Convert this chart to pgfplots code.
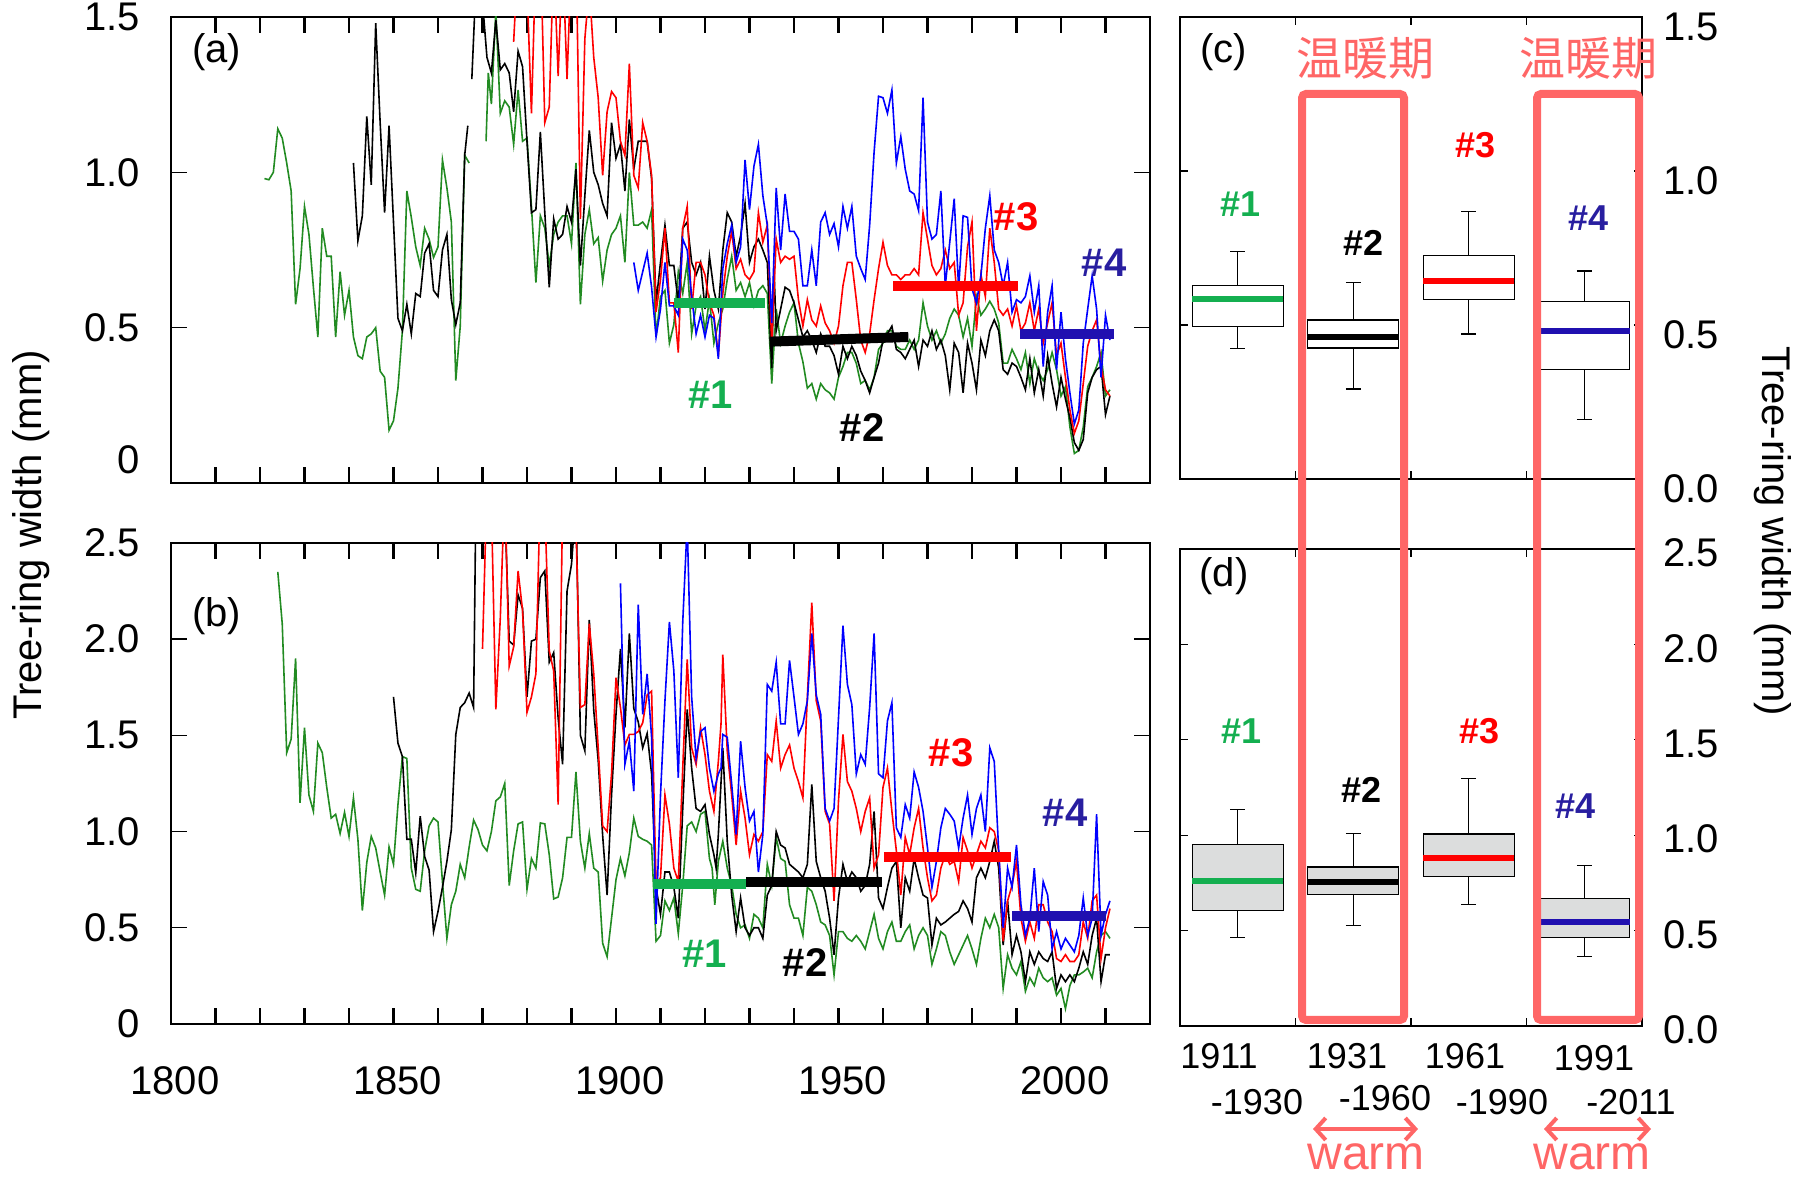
\documentclass[border=0pt]{standalone}
\usepackage{pgfplots}
\pgfplotsset{compat=1.18}
\usepgfplotslibrary{statistics}
\usetikzlibrary{arrows.meta}
\usepackage{fontspec}
\setmainfont{Liberation Sans}
\newfontfamily\cjk{Noto Sans CJK JP}
\definecolor{cgreen}{RGB}{20,175,80}
\definecolor{dgreen}{RGB}{34,139,34}
\definecolor{cred}{RGB}{255,0,0}
\definecolor{cblue}{RGB}{0,0,255}
\definecolor{bblue}{RGB}{32,16,176}
\definecolor{lblue}{RGB}{40,30,160}
\definecolor{salmon}{RGB}{255,102,102}
\definecolor{boxgray}{RGB}{220,221,221}
\newcommand{\fa}{\fontsize{20}{24}\selectfont}
\newcommand{\fb}{\fontsize{18}{22}\selectfont}

\pgfplotstableread{
x y
1821 0.98
1822 0.976
1823 1.00
1824 1.14
1825 1.11
1826 1.03
1827 0.94
1828 0.575
1829 0.69
1830 0.89
1831 0.80
1832 0.63
1833 0.47
1834 0.82
1835 0.73
1836 0.73
1837 0.47
1838 0.68
1839 0.54
1840 0.62
1841 0.47
1842 0.41
1843 0.40
1844 0.47
1845 0.48
1846 0.50
1847 0.36
1848 0.34
1849 0.17
1850 0.20
1851 0.305
1852 0.49
1853 0.94
1854 0.855
1855 0.76
1856 0.70
1857 0.82
1858 0.785
1859 0.726
1860 0.76
1861 1.04
1862 0.95
1863 0.84
1864 0.33
1865 0.505
1866 1.055
1867 1.03
1868 nan
1870.8 1.10
1871.3 1.32
1872 1.22
1873 1.52
1874 1.19
1875 1.23
1876 1.21
1877 1.09
1878 1.265
1879 1.10
1880 1.11
1881 0.89
1882 0.645
1883 0.86
1884 0.82
1885 0.70
1886 0.80
1887 0.84
1888 0.86
1889 0.86
1890 0.77
1891 1.03
1892 0.575
1893 0.80
1894 0.88
1895 0.77
1896 0.79
1897 0.65
1898 0.75
1899 0.80
1900 0.82
1901 0.86
1902 0.71
1903 1.00
1904 0.83
1905 0.83
1906 0.84
1907 0.82
1908 0.88
1909 0.47
1910 0.60
1911 0.62
1912 0.45
1913 0.51
1914 0.68
1915 0.61
1916 0.71
1917 0.48
1918 0.57
1919 0.60
1920 0.49
1921 0.59
1922 0.45
1923 0.515
1924 0.56
1925 0.655
1926 0.73
1927 0.62
1928 0.645
1929 0.60
1930 0.645
1931 0.57
1932 0.62
1933 0.635
1934 0.61
1935 0.32
1936 0.56
1937 0.45
1938 0.505
1939 0.55
1940 0.58
1941 0.45
1942 0.39
1943 0.305
1944 0.32
1945 0.27
1946 0.32
1947 0.30
1948 0.29
1949 0.27
1950 0.34
1951 0.375
1952 0.42
1953 0.42
1954 0.385
1955 0.32
1956 0.33
1957 0.30
1958 0.34
1959 0.43
1960 0.45
1961 0.49
1962 0.49
1963 0.44
1964 0.43
1965 0.43
1966 0.46
1967 0.43
1968 0.46
1969 0.58
1970 0.505
1971 0.46
1972 0.49
1973 0.45
1974 0.48
1975 0.53
1976 0.56
1977 0.54
1978 0.47
1979 0.53
1980 0.44
1981 0.60
1982 0.54
1983 0.56
1984 0.585
1985 0.56
1986 0.515
1987 0.386
1988 0.386
1989 0.43
1990 0.40
1991 0.365
1992 0.42
1993 0.32
1994 0.40
1995 0.355
1996 0.33
1997 0.365
1998 0.42
1999 0.365
2000 0.28
2001 0.31
2002 0.18
2003 0.095
2004 0.105
2005 0.18
2006 0.31
2007 0.34
2008 0.375
2009 0.42
2010 0.28
2011 0.30
}\aGreen

\pgfplotstableread{
x y
1841 1.03
1842 0.78
1843 0.86
1844 1.18
1845 0.96
1846 1.48
1847 1.16
1848 0.87
1849 1.15
1850 0.84
1851 0.53
1852 0.49
1853 0.575
1854 0.48
1855 0.61
1856 0.60
1857 0.74
1858 0.77
1859 0.62
1860 0.60
1861 0.75
1862 0.80
1863 0.59
1864 0.51
1865 0.58
1866 1.055
1866.7 1.15
1867.1 nan
1867.6 1.30
1868.5 1.60
1869 1.70
1870 1.55
1871 1.37
1872 1.32
1873 1.49
1874 1.33
1875 1.35
1876 1.32
1877 1.195
1878 1.39
1879 1.34
1880 1.10
1881 0.87
1882 0.88
1883 1.13
1884 0.87
1885 0.63
1886 0.85
1887 0.785
1888 0.80
1889 0.89
1890 0.84
1891 1.01
1892 0.70
1893 0.925
1894 1.135
1895 1.00
1896 0.96
1897 0.90
1898 0.86
1899 1.16
1900 1.045
1901 1.09
1902 0.94
1903 1.17
1904 1.01
1905 1.10
1906 1.10
1907 1.10
1908 0.98
1909 0.58
1910 0.71
1911 0.83
1912 0.70
1913 0.70
1914 0.58
1915 0.82
1916 0.84
1917 0.71
1918 0.67
1919 0.71
1920 0.56
1921 0.73
1922 0.62
1923 0.56
1924 0.75
1925 0.87
1926 0.84
1927 0.73
1928 0.795
1929 0.90
1930 0.71
1931 0.76
1932 0.785
1933 0.75
1934 0.71
1935 0.37
1935.5 0.69
1936 0.49
1937 0.56
1938 0.63
1939 0.62
1940 0.58
1941 0.525
1942 0.47
1943 0.49
1944 0.46
1945 0.42
1946 0.48
1947 0.44
1948 0.44
1949 0.41
1950 0.35
1951 0.44
1952 0.40
1953 0.44
1954 0.41
1955 0.36
1956 0.33
1957 0.29
1958 0.34
1959 0.386
1960 0.46
1961 0.48
1962 0.505
1963 0.43
1964 0.42
1965 0.40
1966 0.43
1967 0.46
1968 0.375
1969 0.46
1970 0.44
1971 0.49
1972 0.43
1973 0.46
1974 0.41
1975 0.30
1976 0.45
1977 0.42
1978 0.29
1979 0.45
1980 0.386
1981 0.30
1982 0.46
1983 0.41
1984 0.49
1985 0.525
1986 0.49
1987 0.365
1988 0.35
1989 0.386
1990 0.375
1991 0.34
1992 0.30
1993 0.40
1994 0.29
1995 0.365
1996 0.28
1997 0.41
1998 0.32
1999 0.245
2000 0.34
2001 0.27
2002 0.21
2003 0.13
2004 0.105
2005 0.14
2006 0.29
2007 0.34
2008 0.365
2009 0.375
2010 0.22
2011 0.28
}\aBlack

\pgfplotstableread{
x y
1877 1.42
1878 1.70
1879 1.80
1880 1.60
1881 1.19
1882 1.70
1883 1.75
1884 1.16
1885 1.21
1886 1.70
1887 1.31
1888 1.70
1889 1.30
1890 1.70
1891 1.75
1892 0.85
1893 1.43
1894 1.60
1895 1.37
1896 1.24
1897 0.99
1898 1.195
1899 1.26
1900 1.24
1901 1.10
1902 1.055
1903 1.35
1904 0.99
1905 0.95
1906 1.16
1907 1.10
1908 0.99
1909 0.55
1910 0.655
1911 0.82
1912 0.58
1913 0.58
1914 0.42
1915 0.82
1916 0.89
1917 0.56
1918 0.71
1919 0.71
1920 0.67
1921 0.58
1922 0.54
1923 0.41
1924 0.61
1925 0.73
1926 0.81
1927 0.69
1928 0.72
1929 0.67
1930 0.655
1931 0.68
1932 0.87
1933 0.775
1934 0.83
1935 0.45
1936 0.785
1937 0.71
1938 0.73
1939 0.72
1940 0.73
1941 0.59
1942 0.505
1943 0.59
1944 0.525
1945 0.505
1946 0.57
1947 0.515
1948 0.49
1949 0.45
1950 0.505
1951 0.635
1952 0.71
1953 0.71
1954 0.59
1955 0.46
1956 0.42
1957 0.48
1958 0.59
1959 0.69
1960 0.775
1961 0.70
1962 0.67
1963 0.67
1964 0.655
1965 0.67
1966 0.67
1967 0.69
1968 0.67
1969 0.87
1970 0.785
1971 0.70
1972 0.67
1973 0.69
1974 0.75
1975 0.69
1976 0.71
1977 0.54
1978 0.58
1979 0.76
1980 0.84
1981 0.49
1982 0.67
1983 0.60
1984 0.82
1985 0.71
1986 0.56
1987 0.54
1988 0.56
1989 0.505
1990 0.57
1991 0.49
1992 0.515
1993 0.58
1994 0.49
1995 0.56
1996 0.45
1997 0.515
1998 0.58
1999 0.41
2000 0.45
2001 0.34
2002 0.235
2003 0.16
2004 0.20
2005 0.32
2006 0.44
2007 0.49
2008 0.525
2009 0.375
2010 0.30
2011 0.28
}\aRed

\pgfplotstableread{
x y
1904 0.71
1905 0.62
1906 0.68
1907 0.74
1908 0.63
1909 0.47
1910 0.56
1911 0.71
1912 0.57
1913 0.57
1914 0.54
1915 0.785
1916 0.75
1917 0.60
1918 0.48
1919 0.54
1920 0.47
1921 0.54
1922 0.53
1923 0.40
1924 0.69
1925 0.77
1926 0.83
1927 0.71
1928 0.76
1929 1.04
1930 0.88
1931 1.02
1932 1.09
1933 0.925
1934 0.83
1935 0.515
1936 0.95
1937 0.75
1938 0.93
1939 0.81
1940 0.81
1941 0.785
1942 0.635
1943 0.635
1944 0.75
1945 0.635
1946 0.84
1947 0.87
1948 0.80
1949 0.835
1950 0.76
1951 0.89
1952 0.82
1953 0.89
1954 0.73
1955 0.69
1956 0.655
1957 0.83
1958 1.065
1959 1.245
1960 1.24
1961 1.19
1962 1.265
1963 1.03
1964 1.115
1965 1.01
1966 0.94
1967 0.93
1968 0.877
1969 1.24
1970 0.84
1971 0.785
1972 0.80
1973 0.94
1974 0.635
1975 0.775
1976 0.915
1977 0.625
1978 0.86
1979 0.855
1980 0.625
1981 0.58
1982 0.667
1983 0.82
1984 0.925
1985 0.75
1986 0.71
1987 0.635
1988 0.71
1989 0.55
1990 0.59
1991 0.58
1992 0.60
1993 0.667
1994 0.55
1995 0.635
1996 0.375
1997 0.55
1998 0.635
1999 0.365
2000 0.55
2001 0.40
2002 0.29
2003 0.19
2004 0.235
2005 0.45
2006 0.56
2007 0.667
2008 0.56
2009 0.34
2010 0.54
2011 0.46
}\aBlue

\pgfplotstableread{
x y
1824 2.35
1825 2.08
1826 1.41
1827 1.48
1828 1.90
1829 1.15
1830 1.54
1831 1.19
1832 1.105
1833 1.46
1834 1.41
1835 1.23
1836 1.07
1837 1.09
1838 0.99
1839 1.10
1840 0.975
1841 1.175
1842 0.96
1843 0.59
1844 0.84
1845 0.975
1846 0.915
1847 0.79
1848 0.67
1849 0.92
1850 0.83
1851 1.14
1852 1.39
1853 1.38
1854 0.81
1855 0.70
1856 0.69
1857 0.90
1858 1.03
1859 1.07
1860 1.05
1861 0.74
1862 0.445
1863 0.62
1864 0.69
1865 0.83
1866 0.76
1867 0.92
1868 1.06
1869 1.01
1870 0.93
1871 0.90
1872 1.00
1873 1.16
1874 1.18
1875 1.25
1876 0.72
1877 0.90
1878 1.04
1879 1.05
1880 0.70
1881 0.86
1882 0.81
1883 1.045
1884 1.04
1885 0.88
1886 0.65
1887 0.66
1888 0.76
1889 0.97
1890 0.97
1891 1.31
1892 0.95
1893 0.81
1894 0.99
1895 0.81
1896 0.79
1897 0.42
1898 0.35
1899 0.55
1900 0.75
1901 0.86
1902 0.77
1903 0.89
1904 1.07
1905 0.975
1906 0.96
1907 0.95
1908 0.93
1909 0.43
1910 0.46
1911 0.64
1912 0.59
1913 0.655
1914 0.47
1915 0.72
1916 1.03
1917 1.05
1918 1.00
1919 1.09
1920 1.105
1921 0.86
1921.6 0.81
1922.2 0.62
1923 0.845
1924 0.95
1925 0.81
1926 0.72
1927 0.57
1928 0.50
1929 0.515
1930 0.445
1931 0.57
1932 0.55
1933 0.50
1934 0.83
1935 0.72
1936 0.97
1937 0.86
1938 0.845
1939 0.62
1940 0.55
1941 0.55
1942 0.46
1943 0.71
1944 0.69
1945 0.62
1946 0.53
1947 0.515
1948 0.46
1949 0.255
1950 0.48
1951 0.48
1952 0.445
1953 0.43
1954 0.46
1955 0.43
1956 0.39
1957 0.48
1958 0.57
1959 0.445
1960 0.39
1961 0.48
1962 0.53
1963 0.43
1964 0.43
1965 0.48
1966 0.515
1967 0.39
1968 0.46
1969 0.50
1970 0.46
1971 0.31
1972 0.39
1973 0.48
1974 0.46
1975 0.375
1976 0.31
1977 0.36
1978 0.41
1979 0.46
1980 0.39
1981 0.31
1982 0.445
1983 0.55
1984 0.50
1985 0.57
1986 0.50
1987 0.185
1988 0.36
1989 0.29
1990 0.255
1991 0.325
1992 0.17
1993 0.24
1994 0.20
1995 0.29
1996 0.24
1997 0.22
1998 0.24
1999 0.15
2000 0.185
2001 0.08
2002 0.20
2003 0.255
2004 0.255
2005 0.27
2006 0.29
2007 0.24
2008 0.375
2009 0.46
2010 0.48
2011 0.445
}\bGreen

\pgfplotstableread{
x y
1850 1.70
1851 1.46
1852 1.39
1853 0.96
1854 0.96
1855 0.785
1856 1.08
1857 0.87
1858 0.80
1859 0.48
1860 0.585
1861 0.71
1862 0.845
1863 1.01
1864 1.505
1865 1.645
1866 1.67
1867 1.72
1868 1.645
1868.5 2.70
1869 3.00
1870 2.90
1871 2.80
1872 3.00
1873 2.90
1874 2.80
1875 2.70
1876 1.99
1877 1.97
1878 2.23
1879 2.16
1880 1.70
1881 1.99
1882 2.00
1883 2.32
1884 2.355
1885 1.88
1886 1.93
1887 1.59
1888 1.35
1889 2.25
1890 2.39
1891 2.70
1892 1.50
1893 1.42
1894 2.10
1895 1.63
1896 1.37
1897 0.98
1898 0.67
1899 1.19
1900 1.61
1901 1.95
1902 1.54
1903 2.03
1904 1.64
1905 1.57
1906 1.435
1907 1.51
1908 1.30
1909 0.71
1910 0.57
1911 0.79
1912 0.79
1913 0.71
1914 0.55
1915 1.12
1916 1.635
1917 1.33
1918 1.12
1919 1.105
1920 1.14
1921 0.985
1922 0.88
1922.5 0.81
1923 0.985
1924 1.435
1925 0.95
1926 0.67
1927 0.48
1928 0.655
1929 0.50
1930 0.46
1931 0.50
1932 0.50
1933 0.445
1934 0.67
1935 0.72
1936 1.00
1937 0.93
1938 0.915
1939 0.83
1940 0.81
1941 0.79
1942 0.76
1943 0.83
1944 1.245
1945 0.845
1946 0.76
1947 0.69
1948 0.55
1949 0.36
1950 0.655
1951 0.83
1952 0.74
1953 0.79
1954 0.76
1955 0.69
1956 0.72
1957 0.83
1958 1.105
1959 0.655
1960 0.60
1961 0.71
1962 0.81
1963 0.845
1964 0.50
1965 0.76
1966 0.69
1967 0.86
1968 0.76
1969 0.67
1970 0.655
1971 0.41
1972 0.55
1973 0.515
1974 0.53
1975 0.55
1976 0.57
1977 0.585
1978 0.64
1979 0.60
1980 0.53
1981 0.76
1982 0.81
1983 0.76
1984 0.845
1985 0.95
1986 0.81
1987 0.41
1988 0.64
1989 0.36
1990 0.46
1991 0.375
1992 0.22
1993 0.375
1994 0.31
1995 0.375
1996 0.34
1997 0.325
1998 0.375
1999 0.185
2000 0.255
2001 0.22
2002 0.255
2003 0.22
2004 0.29
2005 0.375
2006 0.31
2007 0.46
2008 0.55
2009 0.22
2010 0.36
2011 0.36
}\bBlack

\pgfplotstableread{
x y
1870 1.95
1871 2.80
1872 2.70
1873 1.635
1874 2.11
1875 2.80
1876 1.86
1877 1.96
1878 2.355
1879 2.15
1880 1.62
1881 1.70
1882 1.82
1883 2.80
1884 2.70
1885 1.94
1886 1.835
1887 1.14
1888 2.70
1889 2.80
1890 2.70
1891 2.60
1892 1.645
1893 1.66
1894 2.08
1895 1.82
1896 1.435
1897 1.03
1898 1.00
1899 1.30
1900 1.80
1901 1.645
1902 1.45
1903 1.505
1904 1.505
1905 1.52
1906 1.565
1907 1.71
1908 1.73
1909 0.72
1910 0.76
1911 1.19
1912 1.04
1913 0.81
1914 0.74
1915 1.33
1916 1.895
1917 1.435
1918 1.35
1919 1.54
1920 1.40
1921 1.21
1922 1.105
1923 1.365
1923.6 1.56
1924 1.92
1925 1.42
1926 1.19
1927 0.93
1928 1.21
1929 1.07
1930 0.88
1931 0.985
1932 0.95
1933 1.00
1934 1.40
1935 1.365
1936 1.575
1937 1.33
1938 1.40
1939 1.45
1940 1.33
1941 1.26
1942 1.175
1943 1.70
1944 2.19
1945 1.68
1946 1.575
1947 1.105
1948 1.04
1949 0.64
1950 1.16
1951 1.505
1952 1.26
1953 1.21
1954 1.12
1955 1.00
1956 1.105
1957 1.175
1958 0.81
1959 0.88
1960 1.23
1961 1.33
1962 1.105
1963 0.90
1964 0.67
1965 0.97
1966 0.88
1967 1.02
1968 1.12
1969 0.915
1970 0.76
1971 0.64
1972 0.67
1973 0.81
1974 0.88
1975 0.83
1976 0.845
1977 0.74
1978 0.97
1979 0.90
1980 0.81
1981 0.88
1982 0.95
1983 0.915
1984 1.02
1985 1.00
1986 0.90
1987 0.43
1988 0.64
1989 0.72
1990 0.845
1991 0.55
1992 0.43
1993 0.53
1994 0.445
1995 0.62
1996 0.62
1997 0.53
1998 0.48
1999 0.34
2000 0.325
2001 0.36
2002 0.325
2003 0.325
2004 0.36
2005 0.53
2006 0.445
2007 0.64
2008 0.67
2009 0.34
2010 0.50
2011 0.60
}\bRed

\pgfplotstableread{
x y
1901 2.29
1902 1.35
1903 1.47
1904 1.21
1905 2.18
1906 1.61
1907 1.82
1908 1.49
1909 0.52
1910 1.19
1911 1.68
1912 2.09
1913 1.835
1914 1.28
1915 2.09
1916 2.60
1917 1.70
1918 1.38
1919 1.52
1920 1.54
1921 1.33
1922 1.21
1923 1.30
1923.6 1.33
1924 1.505
1925 1.49
1926 1.245
1927 0.985
1928 1.47
1929 1.23
1930 1.055
1931 1.105
1932 0.79
1933 0.985
1934 1.765
1935 1.73
1936 1.88
1937 1.56
1938 1.56
1939 1.89
1940 1.70
1941 1.505
1942 1.56
1943 1.68
1944 2.03
1945 1.71
1946 1.61
1947 1.12
1948 1.055
1949 1.12
1950 1.59
1951 2.07
1952 1.765
1953 1.66
1954 1.30
1955 1.40
1956 1.35
1957 1.645
1958 2.03
1959 1.30
1960 1.28
1961 1.575
1962 1.67
1963 1.02
1964 0.97
1965 1.14
1966 1.07
1967 1.31
1968 1.23
1969 1.105
1970 0.915
1971 0.71
1972 0.845
1973 1.02
1974 1.12
1975 1.09
1976 1.055
1977 0.915
1978 1.07
1979 1.19
1980 0.985
1981 1.12
1982 1.19
1983 1.00
1984 1.435
1985 1.365
1986 0.90
1987 0.50
1988 0.81
1989 0.71
1990 0.93
1991 0.62
1992 0.46
1993 0.55
1994 0.81
1995 0.48
1996 0.74
1997 0.67
1998 0.39
1999 0.48
2000 0.39
2001 0.445
2002 0.41
2003 0.375
2004 0.46
2005 0.655
2006 0.46
2007 0.55
2008 1.09
2009 0.46
2010 0.57
2011 0.64
}\bBlue

\pgfplotsset{
  tsaxis/.style={
    anchor=south west, scale only axis, width=489.5pt,
    xmin=1800, xmax=2020, ymin=0,
    axis line style={line width=1.3pt},
    tick align=inside, major tick length=8pt,
    xtick style={line width=1.3pt, black},
    ytick style={line width=0.7pt, black},
    tick label style={font=\fa},
    /pgf/number format/assume math mode=true,
    unbounded coords=jump, clip mode=individual,
  },
  thin/.style={line width=0.8pt},
  bar/.style={line width=5pt},
  bxaxis/.style={
    anchor=south west, scale only axis, width=231pt,
    xmin=0, xmax=4, ymin=0,
    axis line style={line width=0.6pt},
    tick align=inside, major tick length=4pt,
    tick style={line width=0.6pt, black},
    xtick={1,2,3}, xticklabels={},
    yticklabel pos=right,
    yticklabel style={font=\fa, xshift=7pt},
    /pgf/number format/assume math mode=true,
    clip mode=individual,
    boxplot/draw direction=y,
    boxplot/every box/.style={draw=black, line width=0.6pt},
    boxplot/every whisker/.style={draw=black, line width=0.6pt},
  },
}

\begin{document}
\begin{tikzpicture}
\path[use as bounding box] (0,0) rectangle (905.5pt,589pt);

% ---------------- (a)
\begin{axis}[tsaxis, at={(85.5pt,347.5pt)}, height=233pt, ymax=1.5,
  xtick={1810,1820,...,2010}, xticklabels={},
  ytick={0.5,1,1.5}, yticklabels={0.5,1.0,1.5},
  extra y ticks={0.075}, extra y tick labels={0},
  extra y tick style={ytick style={draw=none}},
  yticklabel style={xshift=-12pt}]
\addplot[thin, dgreen] table {\aGreen};
\addplot[thin, black] table {\aBlack};
\addplot[thin, cred] table {\aRed};
\addplot[thin, cblue] table {\aBlue};
\addplot[bar, cgreen] coordinates {(1913,0.58) (1933.5,0.58)};
\addplot[bar, black] coordinates {(1934.5,0.455) (1965.7,0.47)};
\addplot[bar, cred] coordinates {(1962.3,0.634) (1990.4,0.634)};
\addplot[bar, bblue] coordinates {(1990.8,0.48) (2012,0.48)};
\node[font=\fa] at (axis cs:1810.3,1.387) {(a)};
\node[font=\fa\bfseries, text=cgreen] at (axis cs:1921.3,0.283) {\#1};
\node[font=\fa\bfseries, text=black] at (axis cs:1955.3,0.18) {\#2};
\node[font=\fa\bfseries, text=cred] at (axis cs:1989.9,0.856) {\#3};
\node[font=\fa\bfseries, text=lblue] at (axis cs:2009.7,0.708) {\#4};
\end{axis}

% ---------------- (b)
\begin{axis}[tsaxis, at={(85.5pt,77pt)}, height=240.5pt, ymax=2.5,
  xtick={1800,1810,...,2020},
  xticklabels={1800,,,,,1850,,,,,1900,,,,,1950,,,,,2000,,},
  xticklabel style={yshift=-18pt, xshift=2pt},
  ytick={0,0.5,1,1.5,2,2.5}, yticklabels={0,0.5,1.0,1.5,2.0,2.5},
  yticklabel style={xshift=-12pt}]
\addplot[thin, dgreen] table {\bGreen};
\addplot[thin, black] table {\bBlack};
\addplot[thin, cred] table {\bRed};
\addplot[thin, cblue] table {\bBlue};
\addplot[bar, cgreen] coordinates {(1908.3,0.73) (1929.3,0.73)};
\addplot[bar, black] coordinates {(1929.3,0.736) (1959.8,0.736)};
\addplot[bar, cred] coordinates {(1960.2,0.87) (1988.8,0.87)};
\addplot[bar, bblue] coordinates {(1989.1,0.56) (2010,0.56)};
\node[font=\fa] at (axis cs:1810.3,2.12) {(b)};
\node[font=\fa\bfseries, text=cgreen] at (axis cs:1920,0.364) {\#1};
\node[font=\fa\bfseries, text=black] at (axis cs:1942.5,0.32) {\#2};
\node[font=\fa\bfseries, text=cred] at (axis cs:1975.3,1.41) {\#3};
\node[font=\fa\bfseries, text=lblue] at (axis cs:2000.9,1.10) {\#4};
\end{axis}

% ---------------- (c)
\begin{axis}[bxaxis, at={(590pt,349.5pt)}, height=231pt, ymax=1.5,
  ytick={0,0.5,1,1.5}, yticklabels={0.0,0.5,1.0,1.5},
  yticklabel style={yshift=-5pt}]
\addplot[fill=white, boxplot prepared={draw position=0.5, median=0.583,
  upper quartile=0.628, lower quartile=0.495, upper whisker=0.738, lower whisker=0.423,
  box extend=0.79, whisker extend=0.13},
  boxplot/every median/.style={draw=cgreen, line width=3pt}] coordinates {};
\addplot[fill=white, boxplot prepared={draw position=1.5, median=0.462,
  upper quartile=0.516, lower quartile=0.425, upper whisker=0.637, lower whisker=0.292,
  box extend=0.79, whisker extend=0.13},
  boxplot/every median/.style={draw=black, line width=3pt}] coordinates {};
\addplot[fill=white, boxplot prepared={draw position=2.5, median=0.643,
  upper quartile=0.725, lower quartile=0.582, upper whisker=0.868, lower whisker=0.471,
  box extend=0.79, whisker extend=0.13},
  boxplot/every median/.style={draw=cred, line width=3pt}] coordinates {};
\addplot[fill=white, boxplot prepared={draw position=3.5, median=0.482,
  upper quartile=0.577, lower quartile=0.355, upper whisker=0.675, lower whisker=0.194,
  box extend=0.79, whisker extend=0.13},
  boxplot/every median/.style={draw=bblue, line width=3pt}] coordinates {};
\node[font=\fa] at (axis cs:0.38,1.386) {(c)};
\node[font=\fb\bfseries, text=cgreen] at (axis cs:0.528,0.894) {\#1};
\node[font=\fb\bfseries, text=black] at (axis cs:1.585,0.767) {\#2};
\node[font=\fb\bfseries, text=cred] at (axis cs:2.556,1.085) {\#3};
\node[font=\fb\bfseries, text=lblue] at (axis cs:3.54,0.846) {\#4};
\end{axis}

% ---------------- (d)
\begin{axis}[bxaxis, at={(590pt,76pt)}, height=238.5pt, ymax=2.5,
  ytick={0,0.5,1,1.5,2,2.5}, yticklabels={0.0,0.5,1.0,1.5,2.0,2.5},
  yticklabel style={yshift=-2pt}]
\addplot[fill=boxgray, boxplot prepared={draw position=0.5, median=0.762,
  upper quartile=0.951, lower quartile=0.604, upper whisker=1.136, lower whisker=0.464,
  box extend=0.79, whisker extend=0.13},
  boxplot/every median/.style={draw=cgreen, line width=3pt}] coordinates {};
\addplot[fill=boxgray, boxplot prepared={draw position=1.5, median=0.756,
  upper quartile=0.833, lower quartile=0.688, upper whisker=1.008, lower whisker=0.527,
  box extend=0.79, whisker extend=0.13},
  boxplot/every median/.style={draw=black, line width=3pt}] coordinates {};
\addplot[fill=boxgray, boxplot prepared={draw position=2.5, median=0.883,
  upper quartile=1.006, lower quartile=0.784, upper whisker=1.298, lower whisker=0.637,
  box extend=0.79, whisker extend=0.13},
  boxplot/every median/.style={draw=cred, line width=3pt}] coordinates {};
\addplot[fill=boxgray, boxplot prepared={draw position=3.5, median=0.545,
  upper quartile=0.670, lower quartile=0.464, upper whisker=0.841, lower whisker=0.365,
  box extend=0.79, whisker extend=0.13},
  boxplot/every median/.style={draw=bblue, line width=3pt}] coordinates {};
\node[font=\fa] at (axis cs:0.38,2.36) {(d)};
\node[font=\fb\bfseries, text=cgreen] at (axis cs:0.535,1.544) {\#1};
\node[font=\fb\bfseries, text=black] at (axis cs:1.57,1.237) {\#2};
\node[font=\fb\bfseries, text=cred] at (axis cs:2.59,1.544) {\#3};
\node[font=\fb\bfseries, text=lblue] at (axis cs:3.42,1.153) {\#4};
\end{axis}

% axis titles
\node[font=\fa, rotate=90] at (15.5pt,321.5pt) {Tree-ring width (mm)};
\node[font=\fa, rotate=-90] at (886.5pt,323.5pt) {Tree-ring width (mm)};

% category labels
\node[font=\fb] at (609.5pt,61pt) {1911};
\node[font=\fb] at (628.5pt,38pt) {-1930};
\node[font=\fb] at (673.5pt,61pt) {1931};
\node[font=\fb] at (692.5pt,40pt) {-1960};
\node[font=\fb] at (732.5pt,61pt) {1961};
\node[font=\fb] at (751pt,38pt) {-1990};
\node[font=\fb] at (797pt,60pt) {1991};
\node[font=\fb] at (815.5pt,38pt) {-2011};

% warm-period highlights
\draw[salmon, line width=4pt, rounded corners=2pt] (651pt,79pt) rectangle (702pt,542pt);
\draw[salmon, line width=4pt, rounded corners=2pt] (768.5pt,79pt) rectangle (819.5pt,542pt);
\node[text=salmon, font=\cjk\fontsize{23}{26}\selectfont] at (682.5pt,560pt) {温暖期};
\node[text=salmon, font=\cjk\fontsize{23}{26}\selectfont] at (794pt,560pt) {温暖期};
\draw[salmon, line width=2pt, {Straight Barb[length=5pt,width=11pt]}-{Straight Barb[length=5pt,width=11pt]}] (656.5pt,24.5pt) -- (709pt,24.5pt);
\draw[salmon, line width=2pt, {Straight Barb[length=5pt,width=11pt]}-{Straight Barb[length=5pt,width=11pt]}] (772pt,24.5pt) -- (825.5pt,24.5pt);
\node[text=salmon, font=\fontsize{24}{28}\selectfont, anchor=base, inner sep=0pt] at (683pt,4pt) {warm};
\node[text=salmon, font=\fontsize{24}{28}\selectfont, anchor=base, inner sep=0pt] at (796pt,4pt) {warm};
\end{tikzpicture}
\end{document}
